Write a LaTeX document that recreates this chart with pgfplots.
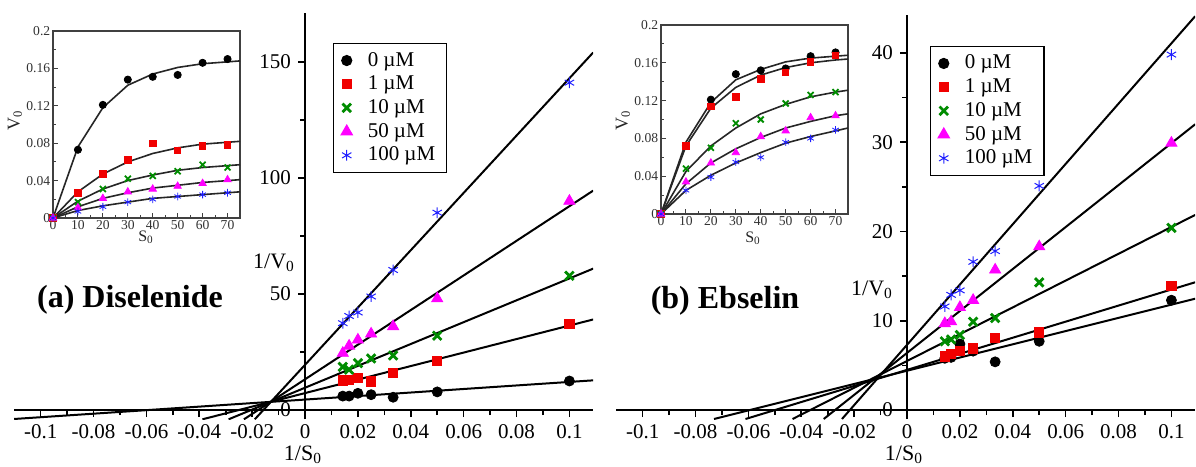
\documentclass[border=0pt]{standalone}
\usepackage{fontspec}
\setmainfont{Liberation Serif}
\usepackage{pgfplots}
\pgfplotsset{compat=1.18}

\definecolor{mkred}{RGB}{240,0,0}
\definecolor{mkgreen}{RGB}{0,140,0}
\definecolor{mkmag}{RGB}{255,0,255}
\definecolor{mkblue}{RGB}{30,30,255}

\newcommand{\fs}[1]{\fontsize{#1}{1.15\dimexpr#1\relax}\selectfont}

\pgfplotsset{
  s0/.style={only marks, mark=*, mark size=2.5bp, black},
  s1/.style={only marks, mark=square*, mark size=2.3bp, mkred},
  s10/.style={only marks, mark=x, mark size=3bp, mkgreen, mark options={line width=1.4bp}},
  s50/.style={only marks, mark=triangle*, mark size=3.2bp, mkmag},
  s100/.style={only marks, mark=asterisk, mark size=2.7bp, mkblue, mark options={line width=0.5bp}},
  i0/.style={only marks, mark=*, mark size=1.8bp, black},
  i1/.style={only marks, mark=square*, mark size=1.6bp, mkred},
  i10/.style={only marks, mark=x, mark size=2.1bp, mkgreen, mark options={line width=0.9bp}},
  i50/.style={only marks, mark=triangle*, mark size=2.1bp, mkmag},
  i100/.style={only marks, mark=asterisk, mark size=1.9bp, mkblue, mark options={line width=0.4bp}},
  fit/.style={black, line width=1bp, no marks, forget plot},
  ifit/.style={black!85, line width=0.8bp, no marks, forget plot},
  mainax/.style={
    scale only axis, axis lines=middle, axis line style={-, line width=1bp},
    xmin=-0.11, xmax=0.109,
    xtick={-0.1,-0.08,-0.06,-0.04,-0.02,0,0.02,0.04,0.06,0.08,0.1},
    xticklabels={-0.1,-0.08,-0.06,-0.04,-0.02,0,0.02,0.04,0.06,0.08,0.1},
    minor xtick={-0.09,-0.07,-0.05,-0.03,-0.01,0.01,0.03,0.05,0.07,0.09},
    tick align=outside, major tick length=3.5bp, minor tick length=2.5bp,
    every tick/.style={line width=0.8bp, black},
    hide obscured x ticks=false, hide obscured y ticks=false,
    ticklabel style={font=\fs{10.5bp}},
    legend cell align=left,
    legend image code/.code={\draw[mark repeat=2,mark phase=2] plot coordinates {(0cm,0cm)(0.2cm,0cm)(0.4cm,0cm)}; \path (0.49cm,0cm);},
    legend style={anchor=north west, draw=black, line width=0.6bp, font=\fs{10.5bp},
      row sep=-0.6bp, inner xsep=3.8bp, inner ysep=2.2bp},
    legend entries={0 µM, 1 µM, 10 µM, 50 µM, 100 µM},
  },
  inset/.style={
    scale only axis, xmin=0, xmax=75, ymin=0, ymax=0.2,
    axis line style={black!75, line width=0.7bp},
    xtick={0,10,...,70}, minor xtick={5,15,...,75},
    xticklabels={0,10,20,30,40,50,60,70},
    ytick={0,0.04,0.08,0.12,0.16,0.2}, yticklabels={0,0.04,0.08,0.12,0.16,0.2},
    minor ytick={0.02,0.06,0.1,0.14,0.18},
    tick align=inside, tick pos=left, major tick length=2.5bp, minor tick length=1.5bp,
    every tick/.style={line width=0.5bp, black!75},
    ticklabel style={font=\fs{6.8bp}, text=black!80, inner sep=1.2bp},
    axis background/.style={fill=white},
  },
}

\begin{document}
\begin{tikzpicture}
\useasboundingbox (0,0) rectangle (598bp,-233.5bp);

% ---------- (a) main Lineweaver-Burk ----------
\begin{axis}[mainax, at={(7.1bp,-6.5bp)}, anchor=north west,
  width=289.5bp, height=203.15bp, ymin=-4, ymax=171,
  ytick={0,50,100,150}, yticklabels={0,50,100,150}, minor ytick={25,75,125},
  legend style={at={(0.5506,0.926)}}]
\addplot[s0] coordinates {(0.1,12.5)(0.05,7.8)(0.03333,5.5)(0.025,6.6)(0.02,7.2)(0.01667,6.0)(0.01429,6.0)};
\addplot[s1] coordinates {(0.1,37.2)(0.05,21.0)(0.03333,16.0)(0.025,12.3)(0.02,14.0)(0.01667,12.9)(0.01429,12.8)};
\addplot[s10] coordinates {(0.1,57.8)(0.05,32.0)(0.03333,23.5)(0.025,22.2)(0.02,20.2)(0.01667,17.4)(0.01429,18.6)};
\addplot[s50] coordinates {(0.1,90.0)(0.05,48.0)(0.03333,36.0)(0.025,32.8)(0.02,30.2)(0.01667,27.6)(0.01429,24.5)};
\addplot[s100] coordinates {(0.1,141.0)(0.05,85.0)(0.03333,60.3)(0.025,48.9)(0.02,42.0)(0.01667,40.5)(0.01429,37.4)};
\addplot[fit] coordinates {(-0.11,-3.86)(0.109,12.78)};
\addplot[fit] coordinates {(-0.0388,-4)(0.109,39.0)};
\addplot[fit] coordinates {(-0.0289,-4)(0.109,60.9)};
\addplot[fit] coordinates {(-0.0231,-4)(0.109,94.5)};
\addplot[fit] coordinates {(-0.019,-4)(0.109,154.0)};
\end{axis}

% ---------- (b) main Lineweaver-Burk ----------
\begin{axis}[mainax, at={(308.1bp,-7.65bp)}, anchor=north west,
  width=289.5bp, height=201.85bp, ymin=-1, ymax=44.2,
  ytick={0,10,20,30,40}, yticklabels={0,10,20,30,40}, minor ytick={5,15,25,35},
  legend style={at={(0.542,0.924)}}]
\addplot[s0] coordinates {(0.1,12.3)(0.05,7.7)(0.03333,5.4)(0.025,6.6)(0.02,7.4)(0.01667,5.9)(0.01429,5.8)};
\addplot[s1] coordinates {(0.1,13.9)(0.05,8.7)(0.03333,8.1)(0.025,6.9)(0.02,6.6)(0.01667,6.3)(0.01429,6.0)};
\addplot[s10] coordinates {(0.1,20.4)(0.05,14.3)(0.03333,10.3)(0.025,9.9)(0.02,8.4)(0.01667,7.9)(0.01429,7.7)};
\addplot[s50] coordinates {(0.1,29.9)(0.05,18.3)(0.03333,15.7)(0.025,12.3)(0.02,11.5)(0.01667,9.9)(0.01429,9.7)};
\addplot[s100] coordinates {(0.1,39.8)(0.05,25.1)(0.03333,17.8)(0.025,16.6)(0.02,13.4)(0.01667,12.9)(0.01429,11.6)};
\addplot[fit] coordinates {(-0.073,-1)(0.109,12.47)};
\addplot[fit] coordinates {(-0.0611,-1)(0.109,14.31)};
\addplot[fit] coordinates {(-0.0433,-1)(0.109,21.85)};
\addplot[fit] coordinates {(-0.0315,-1)(0.109,32.0)};
\addplot[fit] coordinates {(-0.0246,-1)(0.109,44.1)};
\end{axis}

% ---------- (a) inset ----------
\begin{axis}[inset, at={(26.5bp,-15.5bp)}, anchor=north west, width=93.5bp, height=93.5bp]
\addplot[i0] coordinates {(0,0)(10,0.073)(20,0.121)(30,0.148)(40,0.151)(50,0.153)(60,0.166)(70,0.170)};
\addplot[i1] coordinates {(0,0)(10,0.027)(20,0.047)(30,0.062)(40,0.080)(50,0.072)(60,0.077)(70,0.078)};
\addplot[i10] coordinates {(0,0)(10,0.017)(20,0.031)(30,0.042)(40,0.045)(50,0.050)(60,0.057)(70,0.054)};
\addplot[i50] coordinates {(0,0)(10,0.011)(20,0.021)(30,0.028)(40,0.031)(50,0.034)(60,0.037)(70,0.041)};
\addplot[i100] coordinates {(0,0)(10,0.007)(20,0.012)(30,0.017)(40,0.020)(50,0.023)(60,0.025)(70,0.027)};
\addplot[ifit] coordinates {(0,0)(10,0.076)(20,0.118)(30,0.142)(40,0.154)(50,0.161)(60,0.165)(70,0.167)(75,0.168)};
\addplot[ifit] coordinates {(0,0)(10,0.028)(20,0.047)(30,0.060)(40,0.069)(50,0.075)(60,0.079)(70,0.081)(75,0.082)};
\addplot[ifit] coordinates {(0,0)(10,0.018)(20,0.031)(30,0.040)(40,0.046)(50,0.051)(60,0.054)(70,0.056)(75,0.057)};
\addplot[ifit] coordinates {(0,0)(10,0.012)(20,0.021)(30,0.027)(40,0.032)(50,0.035)(60,0.038)(70,0.040)(75,0.041)};
\addplot[ifit] coordinates {(0,0)(10,0.008)(20,0.013)(30,0.017)(40,0.021)(50,0.023)(60,0.025)(70,0.027)(75,0.028)};
\end{axis}

% ---------- (b) inset ----------
\begin{axis}[inset, at={(330.5bp,-12.5bp)}, anchor=north west, width=93.5bp, height=94.5bp]
\addplot[i0] coordinates {(0,0)(10,0.072)(20,0.121)(30,0.148)(40,0.152)(50,0.154)(60,0.167)(70,0.171)};
\addplot[i1] coordinates {(0,0)(10,0.072)(20,0.114)(30,0.124)(40,0.143)(50,0.150)(60,0.161)(70,0.168)};
\addplot[i10] coordinates {(0,0)(10,0.048)(20,0.070)(30,0.096)(40,0.100)(50,0.117)(60,0.126)(70,0.129)};
\addplot[i50] coordinates {(0,0)(10,0.034)(20,0.054)(30,0.065)(40,0.082)(50,0.088)(60,0.102)(70,0.104)};
\addplot[i100] coordinates {(0,0)(10,0.025)(20,0.039)(30,0.055)(40,0.060)(50,0.076)(60,0.080)(70,0.089)};
\addplot[ifit] coordinates {(0,0)(10,0.076)(20,0.118)(30,0.142)(40,0.153)(50,0.161)(60,0.165)(70,0.167)(75,0.168)};
\addplot[ifit] coordinates {(0,0)(10,0.072)(20,0.112)(30,0.134)(40,0.147)(50,0.155)(60,0.160)(70,0.163)(75,0.164)};
\addplot[ifit] coordinates {(0,0)(10,0.045)(20,0.072)(30,0.091)(40,0.106)(50,0.116)(60,0.124)(70,0.129)(75,0.131)};
\addplot[ifit] coordinates {(0,0)(10,0.032)(20,0.054)(30,0.069)(40,0.081)(50,0.091)(60,0.098)(70,0.104)(75,0.106)};
\addplot[ifit] coordinates {(0,0)(10,0.025)(20,0.041)(30,0.054)(40,0.065)(50,0.075)(60,0.082)(70,0.088)(75,0.091)};
\end{axis}

% ---------- labels ----------
\node[font=\bfseries\fs{16bp}] at (65bp,-150bp) {(a) Diselenide};
\node[font=\bfseries\fs{16bp}] at (362.5bp,-150.5bp) {(b) Ebselin};
\node[font=\fs{11bp}] at (137bp,-131.5bp) {1/V\textsubscript{0}};
\node[font=\fs{11bp}] at (436bp,-145bp) {1/V\textsubscript{0}};
\node[font=\fs{11bp}, inner sep=0pt] at (151.5bp,-227.5bp) {1/S\textsubscript{0}};
\node[font=\fs{11bp}, inner sep=0pt] at (452bp,-227.5bp) {1/S\textsubscript{0}};
\node[font=\fs{9bp}, rotate=90, text=black!85] at (7.5bp,-60bp) {V\textsubscript{0}};
\node[font=\fs{9bp}, rotate=90, text=black!85] at (311.5bp,-60bp) {V\textsubscript{0}};
\node[font=\fs{8bp}, text=black!85] at (73bp,-118.5bp) {S\textsubscript{0}};
\node[font=\fs{8bp}, text=black!85] at (376.5bp,-119bp) {S\textsubscript{0}};
\end{tikzpicture}
\end{document}
